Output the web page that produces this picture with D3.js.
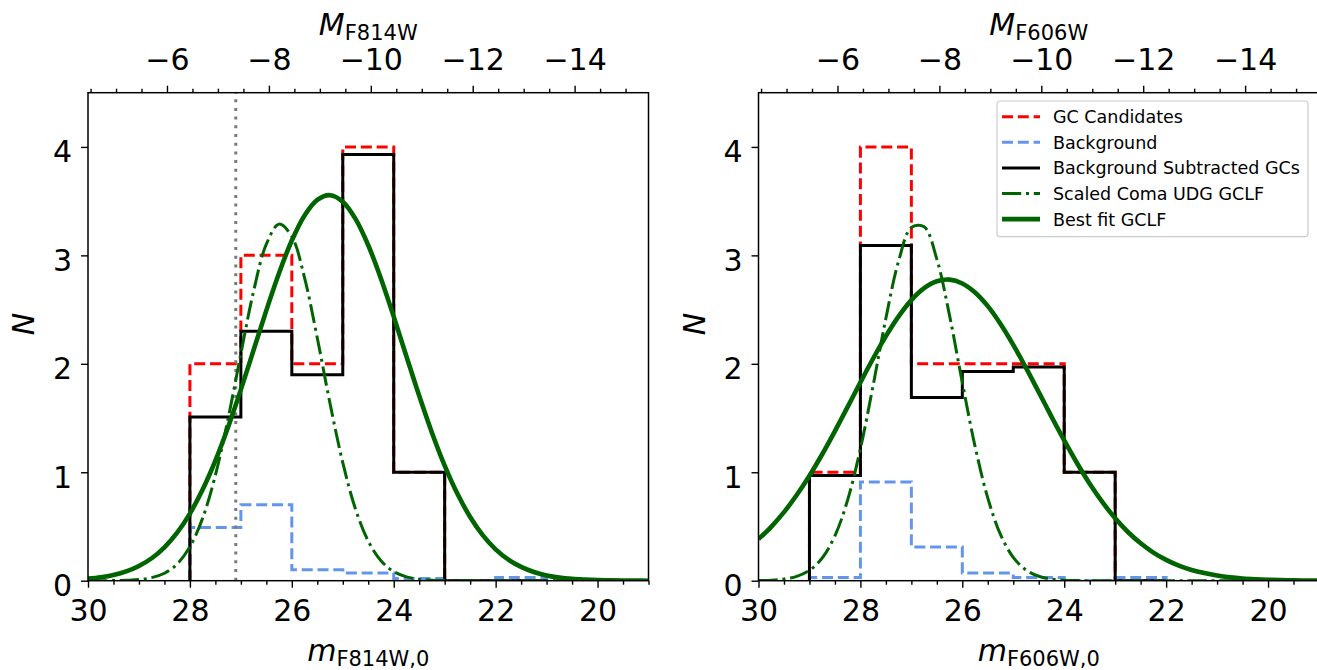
<!DOCTYPE html>
<html><head><meta charset="utf-8">
<script src="https://cdn.jsdelivr.net/npm/d3@7/dist/d3.min.js"></script>
<style>body{margin:0;background:#fff} text{font-family:"DejaVu Sans",sans-serif}</style>
</head><body><svg id="c" width="1317" height="670"></svg>
<script>
// ---------------- data ----------------
const majorTicksBottom = [30, 28, 26, 24, 22, 20];
const majorTicksTop = [-6, -8, -10, -12, -14];
const yTicks = [0, 1, 2, 3, 4];
const distModulus = 34.45;
const completenessMag = 27.1;

// left panel: F814W
const leftEdges = [28, 27, 26, 25, 24, 23, 22, 21];
const leftCandidates = [2, 3, 2, 4, 1, 0, 0];
const leftBackground = [0.49, 0.70, 0.10, 0.07, 0.02, 0, 0.03];
const leftSubtracted = [1.51, 2.30, 1.90, 3.93, 1.0, 0, 0];

// right panel: F606W
const rightEdges = [29, 28, 27, 26, 25, 24, 23, 22];
const rightCandidates = [1, 4, 2, 2, 2, 1, 0];
const rightBackground = [0.03, 0.91, 0.31, 0.07, 0.03, 0, 0.03];
const rightSubtracted = [0.97, 3.09, 1.69, 1.93, 1.97, 1.0, 0];

// curves sampled on a magnitude grid
const magGrid = [30, 29.75, 29.5, 29.25, 29, 28.75, 28.5, 28.25, 28, 27.75, 27.5, 27.25, 27, 26.75, 26.5, 26.25,
  26, 25.75, 25.5, 25.25, 25, 24.75, 24.5, 24.25, 24, 23.75, 23.5, 23.25, 23, 22.75, 22.5, 22.25,
  22, 21.75, 21.5, 21.25, 21, 20.75, 20.5, 20.25, 20, 19.75, 19.5, 19.25, 19];
const leftBestFit = [0.019, 0.032, 0.053, 0.086, 0.136, 0.207, 0.308, 0.443, 0.619, 0.840, 1.107, 1.417, 1.762, 2.127, 2.493, 2.838,
  3.137, 3.368, 3.511, 3.555, 3.495, 3.336, 3.093, 2.785, 2.435, 2.068, 1.705, 1.365, 1.061, 0.801, 0.588, 0.418,
  0.289, 0.194, 0.127, 0.080, 0.049, 0.029, 0.017, 0.010, 0.005, 0.003, 0.001, 0.001, 0];
const leftComa = [0, 0, 0.001, 0.004, 0.010, 0.028, 0.069, 0.154, 0.312, 0.577, 0.973, 1.495, 2.093, 2.670, 3.104, 3.288,
  3.174, 2.792, 2.238, 1.634, 1.088, 0.660, 0.365, 0.184, 0.084, 0.035, 0.013, 0.005, 0.001, 0, 0, 0,
  0, 0, 0, 0, 0, 0, 0, 0, 0, 0, 0, 0, 0];
const rightBestFit = [0.384, 0.497, 0.632, 0.790, 0.968, 1.166, 1.380, 1.603, 1.829, 2.049, 2.255, 2.437, 2.587, 2.697, 2.761, 2.776,
  2.741, 2.658, 2.532, 2.368, 2.175, 1.962, 1.739, 1.513, 1.293, 1.085, 0.894, 0.724, 0.576, 0.449, 0.345, 0.259,
  0.192, 0.139, 0.099, 0.070, 0.048, 0.032, 0.021, 0.014, 0.009, 0.006, 0.003, 0.002, 0.001];
const rightComa = [0.002, 0.005, 0.015, 0.040, 0.095, 0.209, 0.414, 0.745, 1.217, 1.802, 2.420, 2.948, 3.257, 3.263, 2.965, 2.444,
  1.827, 1.239, 0.762, 0.425, 0.215, 0.099, 0.041, 0.015, 0.005, 0.002, 0, 0, 0, 0, 0, 0,
  0, 0, 0, 0, 0, 0, 0, 0, 0, 0, 0, 0, 0];

const legendLabels = ["GC Candidates", "Background", "Background Subtracted GCs", "Scaled Coma UDG GCLF", "Best fit GCLF"];

// ---------------- drawing ----------------
const svg = d3.select("#c");
const FONT = 30;
const yTop = 92.7, yBot = 580.7;
const styles = {
  cand: {stroke: "red", width: 3, dash: "11,4.8"},
  bg: {stroke: "cornflowerblue", width: 3, dash: "11,4.8"},
  sub: {stroke: "black", width: 3, dash: null},
  coma: {stroke: "darkgreen", width: 3, dash: "19.2,4.8,3,4.8"},
  fit: {stroke: "darkgreen", width: 4.6, dash: null}
};

function stepPoints(edges, vals) {
  const pts = [[edges[0], 0]];
  vals.forEach((v, i) => { pts.push([edges[i], v]); pts.push([edges[i + 1], v]); });
  pts.push([edges[edges.length - 1], 0]);
  return pts;
}

function panel(cfg) {
  const x = d3.scaleLinear().domain([30, 19]).range([cfg.x0, cfg.x1]);
  const y = d3.scaleLinear().domain([0, 4.5]).range([yBot, yTop]);
  const xt = d3.scaleLinear().domain([30 - distModulus, 19 - distModulus]).range([cfg.x0, cfg.x1]);
  const g = svg.append("g");
  const clipId = "clip" + cfg.id;
  svg.append("clipPath").attr("id", clipId).append("rect")
    .attr("x", cfg.x0).attr("y", yTop).attr("width", cfg.x1 - cfg.x0).attr("height", yBot - yTop);
  const plot = g.append("g").attr("clip-path", `url(#${clipId})`);
  const line = d3.line().x(d => x(d[0])).y(d => y(d[1]));
  const curve = d3.line().x(d => x(d[0])).y(d => y(d[1])).curve(d3.curveCatmullRom);

  function addPath(gen, pts, st) {
    const p = plot.append("path").attr("d", gen(pts)).attr("fill", "none")
      .attr("stroke", st.stroke).attr("stroke-width", st.width).attr("stroke-linejoin", "miter");
    if (st.dash) p.attr("stroke-dasharray", st.dash);
  }
  addPath(line, stepPoints(cfg.edges, cfg.cand), styles.cand);
  addPath(line, stepPoints(cfg.edges, cfg.bg), styles.bg);
  addPath(line, stepPoints(cfg.edges, cfg.sub), styles.sub);
  if (cfg.dotted) {
    plot.append("line").attr("x1", x(completenessMag)).attr("x2", x(completenessMag))
      .attr("y1", yBot).attr("y2", yTop).attr("stroke", "#7a7a7a").attr("stroke-width", 3)
      .attr("stroke-dasharray", "3,5.7");
  }
  addPath(curve, magGrid.map((m, i) => [m, cfg.coma[i]]), styles.coma);
  addPath(curve, magGrid.map((m, i) => [m, cfg.fit[i]]), styles.fit);

  // axes
  const minorBottom = d3.range(30, 18.99, -0.5).filter(v => !majorTicksBottom.includes(v));
  const minorTop = d3.range(-4.5, -15.49, -0.5).filter(v => !majorTicksTop.includes(v));
  function styleAxis(sel) {
    sel.select(".domain").remove();
    sel.selectAll(".tick line").attr("stroke", "black").attr("stroke-width", 1.4);
    sel.selectAll(".tick text").attr("font-size", FONT).attr("font-family", "DejaVu Sans").attr("fill", "black");
  }
  g.append("g").attr("transform", `translate(0,${yBot})`)
    .call(d3.axisBottom(x).tickValues(majorTicksBottom).tickSize(7).tickPadding(12).tickFormat(d3.format("d")))
    .call(styleAxis);
  g.append("g").attr("transform", `translate(0,${yBot})`)
    .call(d3.axisBottom(x).tickValues(minorBottom).tickSize(4).tickFormat(""))
    .call(styleAxis);
  g.append("g").attr("transform", `translate(0,${yTop})`)
    .call(d3.axisTop(xt).tickValues(majorTicksTop).tickSize(7).tickPadding(15.7).tickFormat(d => "\u2212" + Math.abs(d)))
    .call(styleAxis);
  g.append("g").attr("transform", `translate(0,${yTop})`)
    .call(d3.axisTop(xt).tickValues(minorTop).tickSize(4).tickFormat(""))
    .call(styleAxis);
  const ya = g.append("g").attr("transform", `translate(${cfg.x0},0)`)
    .call(d3.axisLeft(y).tickValues(yTicks).tickSize(7).tickPadding(9).tickFormat(d3.format("d")))
    .call(styleAxis);
  ya.selectAll(".tick text").attr("dy", "0.5em");

  // spines
  g.append("rect").attr("x", cfg.x0).attr("y", yTop).attr("width", cfg.x1 - cfg.x0).attr("height", yBot - yTop)
    .attr("fill", "none").attr("stroke", "black").attr("stroke-width", 1.5);

  // labels
  const cx = (cfg.x0 + cfg.x1) / 2;
  const tl = g.append("text").attr("x", cx).attr("y", 35).attr("text-anchor", "middle").attr("font-size", FONT);
  tl.append("tspan").attr("font-style", "italic").text("M");
  tl.append("tspan").attr("font-size", 21).attr("dy", 5).text(cfg.band);
  const bl = g.append("text").attr("x", cx).attr("y", 661).attr("text-anchor", "middle").attr("font-size", FONT);
  bl.append("tspan").attr("font-style", "italic").text("m");
  bl.append("tspan").attr("font-size", 21).attr("dy", 5).text(cfg.band + ",0");
  g.append("text").attr("transform", `translate(${cfg.x0 - 64.5},324) rotate(-90)`)
    .attr("text-anchor", "middle").attr("dominant-baseline", "central")
    .attr("font-size", FONT).attr("font-style", "italic").text("N");

  if (cfg.legend) {
    const lx = 997, ly = 101, lw = 311, lh = 135.7;
    g.append("rect").attr("x", lx).attr("y", ly).attr("width", lw).attr("height", lh).attr("rx", 3)
      .attr("fill", "white").attr("fill-opacity", 0.8).attr("stroke", "#cccccc").attr("stroke-width", 1.2);
    const st = [styles.cand, styles.bg, styles.sub, styles.coma, styles.fit];
    legendLabels.forEach((lab, i) => {
      const cy = 116.7 + i * 25.6;
      const l = g.append("line").attr("x1", 1002).attr("x2", 1040).attr("y1", cy).attr("y2", cy)
        .attr("stroke", st[i].stroke).attr("stroke-width", st[i].width);
      if (st[i].dash) l.attr("stroke-dasharray", st[i].dash);
      g.append("text").attr("x", 1053).attr("y", cy + 6.4).attr("font-size", 17.5).attr("fill", "black").text(lab);
    });
  }
}

panel({id: "L", x0: 88, x1: 648.5, edges: leftEdges, cand: leftCandidates, bg: leftBackground, sub: leftSubtracted,
  coma: leftComa, fit: leftBestFit, band: "F814W", dotted: true, legend: false});
panel({id: "R", x0: 758.5, x1: 1319, edges: rightEdges, cand: rightCandidates, bg: rightBackground, sub: rightSubtracted,
  coma: rightComa, fit: rightBestFit, band: "F606W", dotted: false, legend: true});
</script></body></html>
